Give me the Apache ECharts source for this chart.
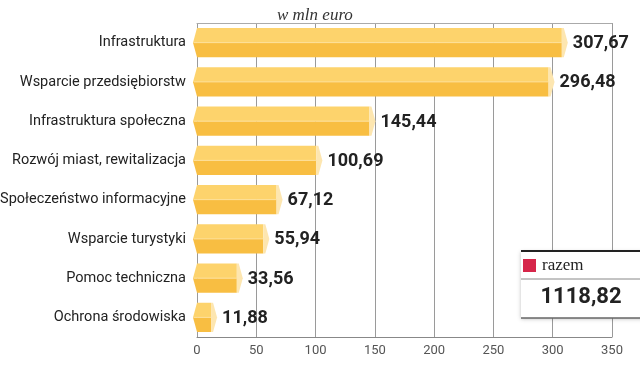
<!DOCTYPE html>
<html><head><meta charset="utf-8">
<script src="https://cdn.jsdelivr.net/npm/echarts@6/dist/echarts.min.js"></script>
<style>html,body{margin:0;padding:0;background:#fff}#c{width:640px;height:366px}</style>
</head><body><div id="c"></div>
<script>
var categories = ["Infrastruktura","Wsparcie przedsiębiorstw","Infrastruktura społeczna","Rozwój miast, rewitalizacja","Społeczeństwo informacyjne","Wsparcie turystyki","Pomoc techniczna","Ochrona środowiska"];
var values = [307.67, 296.48, 145.44, 100.69, 67.12, 55.94, 33.56, 11.88];
var xTicks = {min: 0, max: 350, interval: 50};
var totalLabel = "razem";
var totalValue = "1118,82";
var unitTitle = "w mln euro";

function fmt(v){ return v.toFixed(2).replace('.', ','); }

var chart = echarts.init(document.getElementById('c'));
chart.setOption({
  animation: false,
  backgroundColor: '#fff',
  grid: {left: 197, right: 28, top: 23, bottom: 29, containLabel: false, outerBoundsMode: 'none'},
  title: {text: unitTitle, left: 272, top: 2, textStyle: {fontFamily: 'Liberation Serif', fontStyle: 'italic', fontWeight: 'normal', fontSize: 17, color: '#333'}},
  xAxis: [{
    type: 'value', position: 'bottom', min: xTicks.min, max: xTicks.max, interval: xTicks.interval,
    axisLine: {show: true, lineStyle: {color: '#888', width: 1}},
    axisTick: {show: false},
    axisLabel: {color: '#555', fontFamily: 'Roboto', fontSize: 13, margin: 7},
    splitLine: {show: true, lineStyle: {color: '#9a9a9a', width: 1}}
  }, {
    type: 'value', position: 'top', min: xTicks.min, max: xTicks.max, interval: xTicks.interval,
    axisLine: {show: true, lineStyle: {color: '#aaa', width: 1}},
    axisTick: {show: false}, axisLabel: {show: false}, splitLine: {show: false}
  }],
  yAxis: {
    type: 'category', data: categories, inverse: true,
    axisLine: {show: false}, axisTick: {show: false},
    axisLabel: {color: '#222', fontFamily: 'Roboto', fontSize: 14.5, margin: 11}
  },
  series: [{
    type: 'custom',
    data: values.map(function(v, i){ return [v, i]; }),
    encode: {x: 0, y: 1},
    renderItem: function(params, api){
      var v = api.value(0), idx = api.value(1);
      var p0 = api.coord([0, idx]), p1 = api.coord([v, idx]);
      var h = api.size([0, 1])[1] * 0.74;
      var x0 = p0[0], x1 = p1[0], yc = p0[1], t = yc - h/2, b = yc + h/2;
      return {type: 'group', children: [
        {type: 'polygon', shape: {points: [[x0-4,yc],[x0,t],[x1,t],[x1,yc]]}, style: {fill: '#FDD36C'}},
        {type: 'polygon', shape: {points: [[x0-4,yc],[x1,yc],[x1,b],[x0,b]]}, style: {fill: '#F8BE42'}},
        {type: 'polygon', shape: {points: [[x1,t],[x1+2,t],[x1+6,yc],[x1+2,b],[x1,b]]}, style: {fill: '#FDE6B0'}},
        {type: 'line', shape: {x1: x0-3, y1: yc, x2: x1, y2: yc}, style: {stroke: '#FDE09A', lineWidth: 1}},
        {type: 'text', style: {text: fmt(v), x: x1 + 11, y: yc + 1, verticalAlign: 'middle', fill: '#222', font: 'bold 18px Roboto'}}
      ]};
    }
  }],
  graphic: [
    {type: 'rect', shape: {x: 521, y: 251, width: 130, height: 67}, style: {fill: '#fff', shadowBlur: 4, shadowColor: 'rgba(0,0,0,0.25)', shadowOffsetY: 1}, z: 10},
    {type: 'line', shape: {x1: 521, y1: 251, x2: 640, y2: 251}, style: {stroke: '#222', lineWidth: 2}, z: 11},
    {type: 'rect', shape: {x: 523, y: 259, width: 13, height: 13}, style: {fill: '#D6264A'}, z: 11},
    {type: 'text', style: {text: totalLabel, x: 542, y: 266, verticalAlign: 'middle', fill: '#222', font: '17px "Liberation Serif"'}, z: 11},
    {type: 'line', shape: {x1: 521, y1: 279, x2: 640, y2: 279}, style: {stroke: '#888', lineWidth: 1}, z: 11},
    {type: 'text', style: {text: totalValue, x: 581, y: 297, align: 'center', verticalAlign: 'middle', fill: '#222', font: 'bold 22px Roboto'}, z: 11},
    {type: 'line', shape: {x1: 521, y1: 318, x2: 640, y2: 318}, style: {stroke: '#666', lineWidth: 1.5}, z: 11}
  ]
});
</script></body></html>
